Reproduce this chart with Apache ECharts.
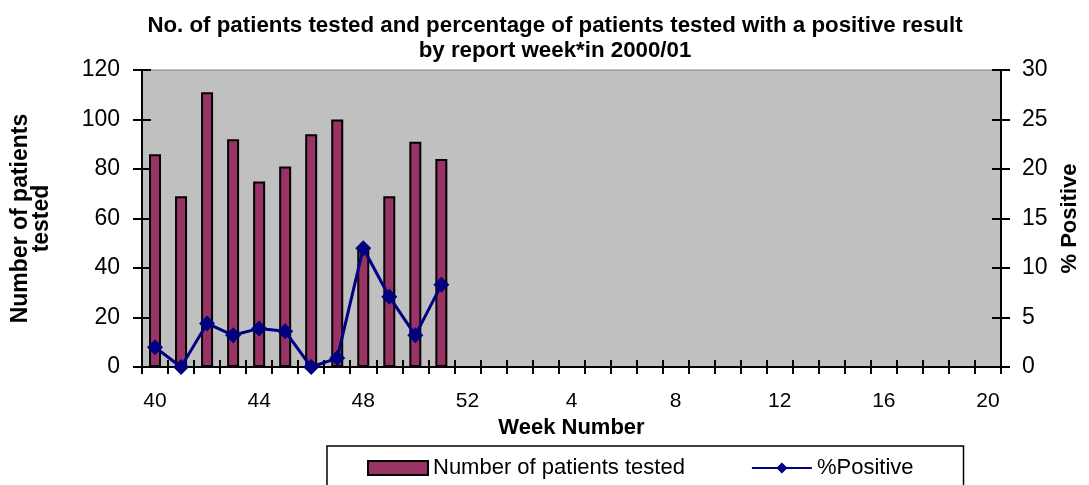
<!DOCTYPE html>
<html>
<head>
<meta charset="utf-8">
<script src="https://cdn.jsdelivr.net/npm/echarts@6/dist/echarts.min.js"></script>
<style>html,body{margin:0;padding:0;background:#fff}#c{width:1089px;height:485px}</style>
</head>
<body>
<div id="c"></div>
<script>
var weeks = ['40','41','42','43','44','45','46','47','48','49','50','51','52',
  '1','2','3','4','5','6','7','8','9','10','11','12','13','14','15','16','17','18','19','20'];
var tested = [86, 69, 111, 92, 75, 81, 94, 100, 48, 69, 91, 84];
var positive = [2.0, 0, 4.4, 3.2, 3.9, 3.6, 0, 0.9, 12.0, 7.1, 3.2, 8.3];
var leftTicks = {min: 0, max: 120, interval: 20};
var rightTicks = {min: 0, max: 30, interval: 5};

var FONT = 'Liberation Sans';
var chart = echarts.init(document.getElementById('c'), null, {renderer: 'canvas'});
function yBase(t, pos, inside, showLabel) {
  return {
    type: 'value', position: pos, min: t.min, max: t.max, interval: t.interval,
    splitLine: {show: false},
    axisLine: {show: true, lineStyle: {color: '#000', width: 2}},
    axisTick: {show: true, inside: inside, length: 9, lineStyle: {color: '#000', width: 2}},
    axisLabel: {show: showLabel, color: '#000', fontFamily: FONT, fontSize: 23, margin: 22}
  };
}
var yL = yBase(leftTicks, 'left', false, true);
yL.name = 'Number of patients\ntested';
yL.nameLocation = 'middle'; yL.nameRotate = 90; yL.nameGap = 90;
yL.nameTextStyle = {color: '#000', fontFamily: FONT, fontWeight: 'bold', fontSize: 23, lineHeight: 21};
var yR = yBase(rightTicks, 'right', false, true);
yR.axisLabel.margin = 21;
yR.name = '% Positive';
yR.nameLocation = 'middle'; yR.nameRotate = 90; yR.nameGap = 58;
yR.nameTextStyle = {color: '#000', fontFamily: FONT, fontWeight: 'bold', fontSize: 22};
var yL2 = yBase(leftTicks, 'left', true, false);
var yR2 = yBase(rightTicks, 'right', true, false);

chart.setOption({
  animation: false,
  backgroundColor: '#fff',
  title: {
    text: 'No. of patients tested and percentage of patients tested with a positive result\nby report week*in 2000/01',
    left: 550, textAlign: 'center', top: 8,
    textStyle: {fontFamily: FONT, fontWeight: 'bold', fontSize: 22.3, lineHeight: 25, color: '#000'}
  },
  grid: {left: 142, right: 81, top: 70, bottom: 118, show: true, backgroundColor: '#C0C0C0', borderColor: '#808080', borderWidth: 1},
  legend: {
    left: 327, top: 446,
    padding: [11, 50, 30, 40],
    borderColor: '#000', borderWidth: 1.5,
    itemWidth: 60, itemHeight: 14, itemGap: 66,
    textStyle: {fontFamily: FONT, fontSize: 22, color: '#000'},
    data: [{name: 'Number of patients tested', icon: 'rect'}, {name: '%Positive'}]
  },
  xAxis: [{
    type: 'category', data: weeks, position: 'bottom',
    name: 'Week Number', nameLocation: 'middle', nameGap: 41,
    nameTextStyle: {color: '#000', fontFamily: FONT, fontWeight: 'bold', fontSize: 22},
    axisLine: {show: true, lineStyle: {color: '#000', width: 2}},
    axisTick: {show: true, interval: 0, length: 7, lineStyle: {color: '#000', width: 2}},
    axisLabel: {interval: 3, color: '#000', fontFamily: FONT, fontSize: 21, margin: 24},
    splitLine: {show: false}
  }, {
    type: 'category', data: weeks, position: 'bottom',
    axisLine: {show: false},
    axisTick: {show: true, inside: true, interval: 0, length: 7, lineStyle: {color: '#000', width: 2}},
    axisLabel: {show: false},
    splitLine: {show: false}
  }],
  yAxis: [yL, yR, yL2, yR2],
  series: [{
    name: 'Number of patients tested', type: 'bar', xAxisIndex: 0, yAxisIndex: 0,
    data: tested, barWidth: 12,
    itemStyle: {color: '#993366', borderColor: '#000', borderWidth: 2}
  }, {
    name: '%Positive', type: 'line', xAxisIndex: 0, yAxisIndex: 1,
    data: positive, symbol: 'diamond', symbolSize: 16,
    lineStyle: {color: '#000080', width: 3},
    itemStyle: {color: '#000080'}
  }]
});
</script>
</body>
</html>
